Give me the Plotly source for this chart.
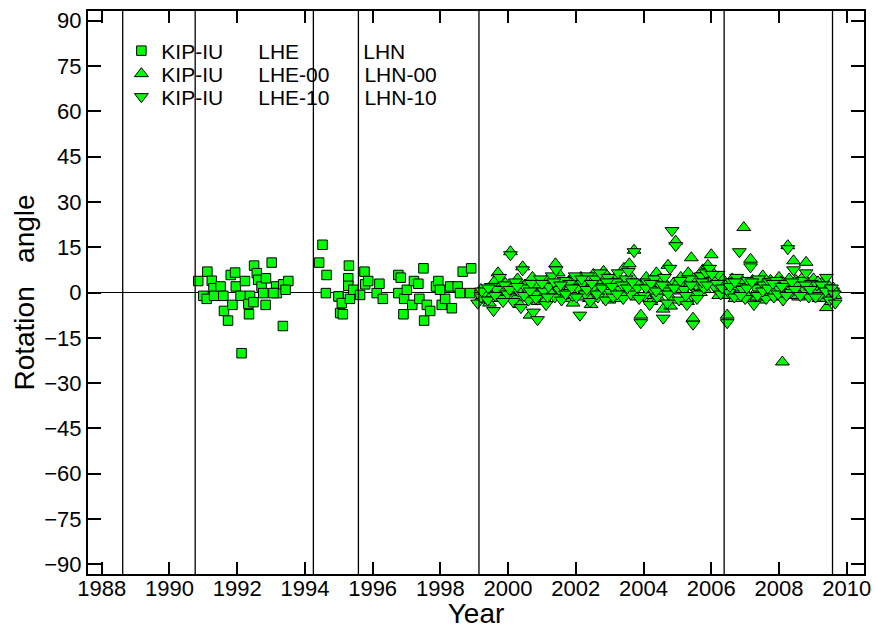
import plotly.graph_objects as go

# ---------------- data ----------------
sq_year = [1990.85, 1991.12, 1991.25, 1991.00, 1991.10, 1991.30, 1991.32, 1991.51, 1991.59, 1991.61,
           1991.73, 1991.81, 1991.94, 1991.96, 1991.86, 1992.10, 1992.23, 1992.38, 1992.33, 1992.35,
           1992.50, 1992.58, 1992.62, 1992.72, 1992.85, 1993.02, 1992.84, 1992.48, 1993.15, 1993.17,
           1993.36, 1993.51, 1993.43, 1993.35, 1992.13, 1992.77, 1993.07,
           1994.52, 1994.42, 1994.64, 1994.62, 1995.00, 1995.04,
           1994.99, 1995.09, 1995.12, 1995.30, 1995.28, 1995.28, 1995.33, 1995.43, 1995.63, 1995.76,
           1995.78, 1995.87, 1996.12, 1996.20, 1996.30, 1996.76, 1996.83, 1996.76, 1996.93, 1997.01,
           1996.91, 1997.17, 1997.22, 1997.35, 1997.38, 1997.50, 1997.60, 1997.70, 1997.52, 1997.87,
           1997.94, 1998.04, 1998.14, 1997.99, 1998.29, 1998.51, 1998.58, 1998.34, 1998.66, 1998.91,
           1998.88]
sq_val = [3.8, 6.9, 3.9, -1.1, -2.1, 1.4, -1.1, 2.0, -1.1, -6.1,
          -9.3, 5.8, 6.6, 2.0, -4.1, -1.1, 3.8, -1.1, -3.8, -7.2,
          8.9, 6.4, 4.2, 2.0, 4.7, 9.9, -4.1, -3.2, 2.0, -0.2,
          2.7, 3.8, 0.9, -11.1, -20.1, -0.2, -0.2,
          15.8, 9.9, 5.8, -0.2, -1.3, -6.8,
          -1.3, -3.5, -7.2, 8.9, 4.7, 2.2, -2.1, 0.9, -0.8, 6.9,
          2.7, 3.8, -0.2, 2.9, -2.1, 5.8, 4.9, -0.2, -2.1, 0.9,
          -7.2, -4.1, 3.8, 2.9, -2.1, 8.0, -4.1, -6.1, -9.3, 2.0,
          3.8, -4.1, -2.1, 0.9, 2.0, 2.0, -0.2, -5.2, 6.9, 8.0,
          -0.2]

up_year = [1999.15, 1999.25, 1999.35, 1999.45, 1999.55, 1999.62, 1999.70, 1999.78, 1999.85, 1999.92,
           2000.00, 2000.07, 2000.12, 2000.20, 2000.28, 2000.35, 2000.43, 2000.50, 2000.57, 2000.65,
           2000.72, 2000.80, 2000.88, 2000.95, 2001.02, 2001.10, 2001.18, 2001.25, 2001.33, 2001.40,
           2001.48, 2001.55, 2001.62, 2001.70, 2001.78, 2001.85, 2001.92, 2002.00, 2002.08, 2002.15,
           2002.22, 2002.30, 2002.38, 2002.45, 2002.52, 2002.60, 2002.68, 2002.75, 2002.82, 2002.90,
           2002.98, 2003.05, 2003.12, 2003.20, 2003.28, 2003.35, 2003.42, 2003.50, 2003.58, 2003.65,
           2003.72, 2003.80, 2003.92, 2004.00, 2004.08, 2004.15, 2004.22, 2004.30, 2004.38, 2004.45,
           2004.52, 2004.58, 2004.65, 2004.72, 2004.80, 2004.88, 2004.95, 2005.02, 2005.10, 2005.18,
           2005.25, 2005.32, 2005.41, 2005.46, 2005.52, 2005.60, 2005.68, 2005.75, 2005.82, 2005.90,
           2006.00, 2006.08, 2006.15, 2006.22, 2006.30, 2006.38, 2006.47, 2006.55, 2006.62, 2006.70,
           2006.78, 2006.86, 2006.96, 2007.05, 2007.12, 2007.16, 2007.22, 2007.30, 2007.38, 2007.45,
           2007.52, 2007.60, 2007.68, 2007.75, 2007.82, 2007.90, 2008.00, 2008.10, 2008.18, 2008.26,
           2008.33, 2008.43, 2008.50, 2008.58, 2008.65, 2008.72, 2008.80, 2008.88, 2008.95, 2009.02,
           2009.10, 2009.18, 2009.25, 2009.32, 2009.40, 2009.48, 2009.55, 2009.65,
           1999.20, 1999.40, 1999.60, 1999.80, 2000.03, 2000.25, 2000.40, 2000.62, 2000.85, 2001.07,
           2001.22, 2001.45, 2001.60, 2001.80, 2001.95, 2002.10, 2002.25, 2002.40, 2002.55, 2002.70,
           2002.85, 2003.00, 2003.15, 2003.30, 2003.45, 2003.62, 2003.85, 2004.05, 2004.20, 2004.35,
           2004.50, 2004.68, 2004.85, 2005.00, 2005.15, 2005.30, 2005.48, 2005.65, 2005.80, 2005.95,
           2006.10, 2006.25, 2006.42, 2006.58, 2006.72, 2006.90, 2007.02, 2007.18, 2007.35, 2007.50,
           2007.65, 2007.80, 2007.95, 2008.05, 2008.15, 2008.30, 2008.40, 2008.55, 2008.70, 2008.85,
           2009.00, 2009.15, 2009.35, 2009.45, 2009.60]
up_val = [-2.5, -1.0, 0.5, -3.5, 1.5, 4.0, 6.5, 2.0, -1.5, 3.0,
          0.5, 13.5, -2.0, 1.0, 4.5, -4.0, 8.5, 2.5, -1.0, -7.5,
          5.0, 0.0, -3.0, 3.5, 1.5, -2.5, 4.5, 2.0, -1.0, 9.5,
          6.5, 0.5, 3.0, -2.0, 1.0, 4.5, -3.5, 2.5, 0.0, 5.0,
          -1.5, 3.0, 1.0, -4.0, 6.0, 2.0, -0.5, 4.0, 7.0, 1.5,
          -2.5, 3.5, 0.5, 5.5, -1.0, 2.0, 8.0, 4.0, 9.5, 1.0,
          14.0, -1.5, -7.5, 3.0, 5.0, 0.0, -3.0, 2.5, 6.5, -2.0,
          4.5, -5.5, 1.0, 9.0, -4.5, 3.0, 17.0, 0.5, 5.0, -2.5,
          2.0, 6.5, 11.5, -8.5, -1.0, 3.5, 0.0, 7.5, 4.0, 9.0,
          12.5, 6.0, 3.0, -1.0, 5.0, 2.0, -7.5, 1.0, 4.5, -2.0,
          3.0, 0.5, 21.5, 2.5, -1.5, 11.0, 4.0, 0.0, 3.0, -2.5,
          5.5, 1.0, -1.0, 4.0, 2.0, -0.5, 5.0, -23.0, 3.0, 15.5,
          1.5, 10.5, 4.0, -1.5, 3.0, 0.5, 10.0, 2.5, -1.0, 4.5,
          1.0, -2.0, 3.0, 0.5, -5.0, 2.0, -3.0, -1.0,
          1.0, -0.5, -2.0, 0.5, 2.5, -1.5, 0.0, 1.5, 2.5, -0.5,
          0.5, 2.5, -1.0, 3.5, 0.5, 2.0, 4.5, -2.0, 0.5, 2.5,
          -1.0, 4.5, -2.0, 3.5, 0.0, 5.5, 2.5, -1.0, 1.5, 3.5,
          0.0, 2.5, -2.5, 3.0, 1.0, -3.0, 4.5, 2.0, 1.0, 5.5,
          3.5, 1.0, -1.0, 3.0, 1.5, 4.0, -0.5, 2.5, -1.5, 3.5,
          2.5, -1.5, 2.5, 3.5, 0.0, 4.5, -1.0, 2.0, 5.0, 0.0,
          2.0, 3.5, -1.0, 0.5, 1.5]

dn_year = [1999.10, 1999.20, 1999.30, 1999.40, 1999.50, 1999.57, 1999.65, 1999.75, 1999.82, 1999.90,
           1999.98, 2000.07, 2000.15, 2000.22, 2000.30, 2000.38, 2000.43, 2000.52, 2000.60, 2000.68,
           2000.75, 2000.87, 2000.95, 2001.05, 2001.12, 2001.20, 2001.30, 2001.38, 2001.42, 2001.50,
           2001.58, 2001.65, 2001.75, 2001.82, 2001.90, 2001.98, 2002.05, 2002.12, 2002.20, 2002.28,
           2002.35, 2002.42, 2002.50, 2002.58, 2002.65, 2002.72, 2002.80, 2002.88, 2002.95, 2003.02,
           2003.10, 2003.18, 2003.25, 2003.32, 2003.40, 2003.48, 2003.55, 2003.62, 2003.72, 2003.82,
           2003.92, 2004.02, 2004.10, 2004.18, 2004.25, 2004.32, 2004.40, 2004.48, 2004.58, 2004.62,
           2004.70, 2004.78, 2004.84, 2004.95, 2005.05, 2005.12, 2005.20, 2005.28, 2005.35, 2005.42,
           2005.46, 2005.55, 2005.62, 2005.70, 2005.78, 2005.85, 2005.95, 2006.05, 2006.12, 2006.20,
           2006.28, 2006.35, 2006.47, 2006.52, 2006.60, 2006.68, 2006.75, 2006.83, 2006.92, 2007.00,
           2007.08, 2007.16, 2007.26, 2007.32, 2007.40, 2007.48, 2007.55, 2007.62, 2007.70, 2007.78,
           2007.85, 2007.92, 2008.02, 2008.12, 2008.20, 2008.26, 2008.35, 2008.43, 2008.52, 2008.60,
           2008.68, 2008.75, 2008.80, 2008.88, 2008.95, 2009.05, 2009.12, 2009.20, 2009.30, 2009.40,
           2009.50, 2009.58, 2009.66,
           1999.22, 1999.42, 1999.62, 1999.85, 2000.05, 2000.27, 2000.47, 2000.65, 2000.82, 2001.00,
           2001.17, 2001.35, 2001.55, 2001.70, 2001.88, 2002.02, 2002.17, 2002.32, 2002.47, 2002.62,
           2002.77, 2002.92, 2003.07, 2003.22, 2003.37, 2003.52, 2003.67, 2003.87, 2004.07, 2004.22,
           2004.37, 2004.55, 2004.73, 2004.90, 2005.08, 2005.25, 2005.40, 2005.58, 2005.73, 2005.88,
           2006.02, 2006.17, 2006.32, 2006.55, 2006.70, 2006.87, 2007.05, 2007.20, 2007.36, 2007.52,
           2007.67, 2007.82, 2007.97, 2008.08, 2008.22, 2008.38, 2008.47, 2008.63, 2008.78, 2008.92,
           2009.08, 2009.25, 2009.38, 2009.55, 2009.63]
dn_val = [-3.5, -1.5, 0.0, -2.5, 2.0, -6.0, 1.0, 5.0, -2.0, 2.5,
          -0.5, 12.5, -3.0, 3.5, 0.5, -5.0, 7.5, 1.5, -2.5, 3.0,
          -6.5, -9.0, 4.5, 0.5, -4.0, 2.0, 5.5, -1.5, 7.5, 1.0,
          -2.5, 4.0, 0.0, 3.0, -1.0, 5.5, 1.5, -7.5, 3.0, -0.5,
          5.5, -3.0, 1.5, 4.5, -1.5, 6.5, 2.0, -2.5, 5.0, 0.0,
          -1.5, 3.5, 6.5, 1.0, -2.0, 4.5, 7.0, -0.5, 13.5, 1.5,
          -10.0, -1.0, 3.5, -4.0, 1.0, 4.5, -1.5, 2.5, -8.5, 5.0,
          -3.5, 8.0, 20.5, 15.5, -2.5, 3.5, 1.0, -4.0, 4.5, -1.0,
          -10.5, 2.5, -0.5, 5.5, 1.5, 6.5, 8.0, 4.0, 1.5, 6.0,
          -0.5, 3.0, -10.0, 0.0, 3.5, -1.5, 5.0, 13.5, 1.0, -2.0,
          4.0, 8.5, -4.0, 1.5, 4.5, -0.5, 2.5, -2.0, 3.5, 0.5,
          -1.5, 4.0, 1.0, -2.5, 3.0, 14.5, 0.0, 7.5, 2.5, -0.5,
          4.0, 1.0, 6.5, -1.5, 3.0, 0.0, 2.5, -1.0, 1.5, 5.0,
          -2.5, 0.5, -3.5,
          0.5, 1.5, -1.0, -3.0, 1.0, 2.0, -1.0, 0.5, -2.0, 3.0,
          -1.5, 3.5, 2.5, -0.5, 1.5, -1.5, 4.5, 1.0, 3.0, -0.5,
          1.5, 3.5, 2.0, -0.5, 2.5, 1.5, 3.5, -2.0, 1.5, 3.0,
          0.5, 2.5, -0.5, 1.5, 4.0, -1.0, 2.5, -2.0, 3.5, 2.5,
          6.0, 3.0, 1.5, 2.0, 3.5, -1.0, 1.5, 3.5, -1.0, 0.5,
          1.5, 3.0, -0.5, 2.0, -1.0, 3.5, 1.0, -1.0, 2.5, 1.0,
          -1.5, 2.5, 0.5, 1.5, -0.5]

event_years = [1988.62, 1990.76, 1994.25, 1995.58, 1999.14, 2006.38, 2009.58]
y_ticks = [-90, -75, -60, -45, -30, -15, 0, 15, 30, 45, 60, 75, 90]
x_ticks = list(range(1988, 2011, 2))

NB = "\u00a0"
names = ["KIP-IU" + NB * 6 + "LHE" + NB * 11 + "LHN",
         "KIP-IU" + NB * 6 + "LHE-00" + NB * 6 + "LHN-00",
         "KIP-IU" + NB * 6 + "LHE-10" + NB * 6 + "LHN-10"]

FONT = "Liberation Sans, Arial, sans-serif"
GREEN = "#00ff00"

fig = go.Figure()
fig.add_trace(go.Scatter(x=sq_year, y=sq_val, mode="markers", name=names[0], legend="legend",
                         marker=dict(symbol="square", size=9.5, color=GREEN, line=dict(color="black", width=1))))
fig.add_trace(go.Scatter(x=up_year, y=up_val, mode="markers", name=names[1], legend="legend2",
                         marker=dict(symbol="triangle-up", size=12, color=GREEN, line=dict(color="black", width=1))))
fig.add_trace(go.Scatter(x=dn_year, y=dn_val, mode="markers", name=names[2], legend="legend3",
                         marker=dict(symbol="triangle-down", size=12, color=GREEN, line=dict(color="black", width=1))))

for yr in event_years:
    fig.add_shape(type="line", xref="x", yref="paper", x0=yr, x1=yr, y0=0, y1=1,
                  line=dict(color="black", width=1.3), layer="above")

T, B = 11, 574
def ypaper(p):
    return (B - p) / (B - T)

leg_common = dict(xanchor="left", yanchor="middle", bgcolor="rgba(0,0,0,0)",
                  font=dict(family=FONT, size=21, color="black"), borderwidth=0)
fig.update_layout(
    width=875, height=629,
    margin=dict(l=88, r=11, t=T, b=629 - B, autoexpand=False),
    paper_bgcolor="white", plot_bgcolor="white",
    font=dict(family=FONT, color="black"),
    showlegend=True,
    legend=dict(x=0.043, y=ypaper(51), **leg_common),
    legend2=dict(x=0.043, y=ypaper(74), **leg_common),
    legend3=dict(x=0.043, y=ypaper(97), **leg_common),
    xaxis=dict(range=[1987.595, 2010.51], tickvals=x_ticks, ticktext=[str(v) for v in x_ticks],
               ticks="inside", ticklen=12, tickwidth=2, tickcolor="black",
               showline=True, linewidth=2, linecolor="black", mirror="ticks",
               showgrid=False, zeroline=False, automargin=False, ticklabelstandoff=-6,
               tickfont=dict(family=FONT, size=22, color="black"),
               title=dict(text="Year", font=dict(family=FONT, size=28, color="black"), standoff=10)),
    yaxis=dict(range=[-93.2, 93.2], tickvals=y_ticks,
               ticks="inside", ticklen=13, tickwidth=2, tickcolor="black",
               showline=True, linewidth=2, linecolor="black", mirror="ticks",
               showgrid=False, zeroline=True, zerolinecolor="black", zerolinewidth=1,
               automargin=False,
               tickfont=dict(family=FONT, size=22, color="black"),
               title=dict(text="Rotation" + NB * 3 + "angle", font=dict(family=FONT, size=28, color="black"), standoff=1)),
)

fig.write_html("out.html")
